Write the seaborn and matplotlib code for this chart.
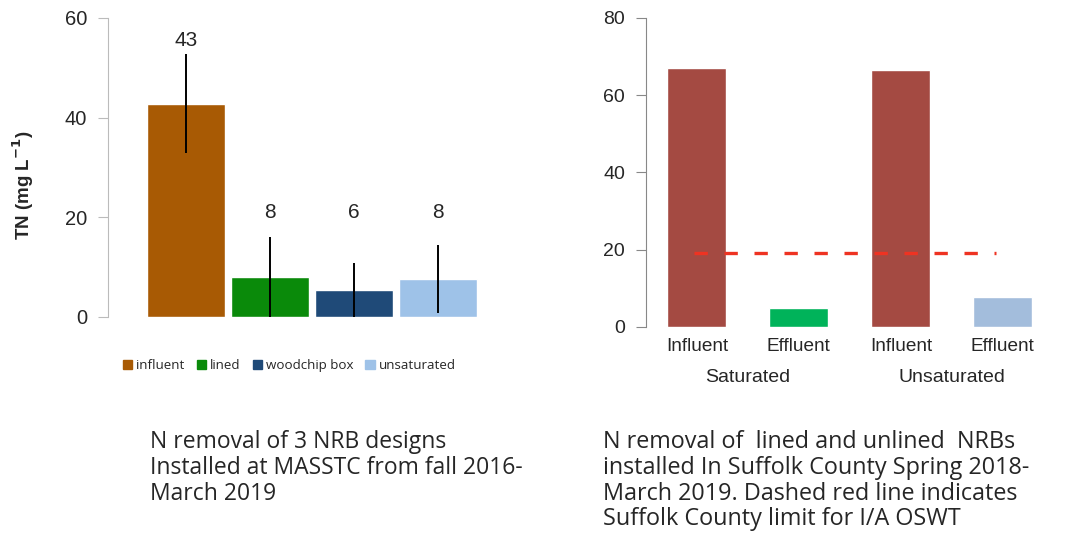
import pandas as pd
import seaborn as sns
import matplotlib.pyplot as plt
from matplotlib.patches import Patch

# dados - painel esquerdo (MASSTC)
designs = ['influent', 'lined', 'woodchip box', 'unsaturated']
tn_means = [42.8, 8.0, 5.4, 7.6]
tn_err = [10.0, 8.0, 5.5, 6.9]
tn_labels = ['43', '8', '6', '8']
colors_left = ['#A85A04', '#0A8A0A', '#1F4A78', '#9EC2E8']

# dados - painel direito (Suffolk County)
groups = ['Saturated', 'Unsaturated']
sample_type = ['Influent', 'Effluent', 'Influent', 'Effluent']
suffolk_tn = [67.1, 4.9, 66.6, 7.8]
colors_right = ['#A44A42', '#00B35A', '#A44A42', '#A3BDDC']
county_limit = 19.2

caption_left = 'N removal of 3 NRB designs\nInstalled at MASSTC from fall 2016-\nMarch 2019'
caption_right = ('N removal of  lined and unlined  NRBs\ninstalled In Suffolk County Spring 2018-\n'
                 'March 2019. Dashed red line indicates\nSuffolk County limit for I/A OSWT')

sns.set_style('white')
plt.rcParams['font.family'] = ['Liberation Sans', 'DejaVu Sans']

fig = plt.figure(figsize=(10.71, 5.35), dpi=100)

# painel esquerdo
ax1 = fig.add_axes([0.1008, 0.4075, 0.353, 0.559])
df1 = pd.DataFrame({'design': designs, 'tn': tn_means})
sns.barplot(data=df1, x='design', y='tn', hue='design', palette=colors_left,
            width=0.92, legend=False, ax=ax1, saturation=1)
ax1.errorbar(range(len(designs)), tn_means, yerr=tn_err, fmt='none', ecolor='black', elinewidth=1.4)
# rotulos: o maior acima da barra de erro, os outros numa altura comum
for i, lab in enumerate(tn_labels):
    ypos = tn_means[i] + tn_err[i] + 2.7 if i == 0 else 21
    ax1.text(i, ypos, lab, ha='center', va='center', fontsize=15)
ax1.set_ylim(0, 60)
ax1.set_xlim(-0.93, 3.57)
ax1.set_yticks([0, 20, 40, 60])
ax1.set_xticks([])
ax1.set_xlabel('')
ax1.set_ylabel('TN (mg L$^{\\mathbf{-1}}$)', fontsize=13.5, fontweight='bold')
ax1.yaxis.set_label_coords(-0.19, 0.44)
ax1.tick_params(axis='y', labelsize=14.5, length=7, color='#bbbbbb', left=True, pad=8)
for s in ['top', 'right', 'bottom']:
    ax1.spines[s].set_visible(False)
ax1.spines['left'].set_color('#bbbbbb')
handles = [Patch(color=c, label=d) for c, d in zip(colors_left, designs)]
ax1.legend(handles=handles, loc='upper center', bbox_to_anchor=(0.48, -0.1), ncol=4, frameon=False,
           handlelength=0.7, handleheight=0.7, handletextpad=0.3, columnspacing=0.9,
           prop={'family': 'Open Sans', 'size': 9.6})

# painel direito
ax2 = fig.add_axes([0.603, 0.389, 0.381, 0.5776])
df2 = pd.DataFrame({'pos': ['0', '1', '2', '3'], 'tn': suffolk_tn})
sns.barplot(data=df2, x='pos', y='tn', hue='pos', palette=colors_right,
            width=0.58, legend=False, ax=ax2, saturation=1)
ax2.hlines(county_limit, -0.03, 2.93, colors='#EE3322', linestyles=(0, (4, 5)), linewidth=2.4)
ax2.set_ylim(0, 80)
ax2.set_xlim(-0.5, 3.5)
ax2.set_yticks([0, 20, 40, 60, 80])
ax2.set_xticks(range(4))
ax2.set_xticklabels(sample_type)
ax2.set_xlabel('')
ax2.set_ylabel('')
ax2.tick_params(axis='y', labelsize=14, length=7, color='#888888', left=True, pad=8)
ax2.tick_params(axis='x', labelsize=13.7, length=0, pad=8)
for s in ['top', 'right', 'bottom']:
    ax2.spines[s].set_visible(False)
ax2.spines['left'].set_color('#888888')
ax2.text(0.5, -13, groups[0], ha='center', va='center', fontsize=14)
ax2.text(2.5, -13, groups[1], ha='center', va='center', fontsize=14)

# legendas de texto
fig.text(150 / 1071, 1 - 430 / 535, caption_left, ha='left', va='top', fontsize=16.5,
         family='Open Sans', linespacing=1.12)
fig.text(603 / 1071, 1 - 430 / 535, caption_right, ha='left', va='top', fontsize=16.8,
         family='Open Sans', linespacing=1.1)

fig.savefig('out.png', dpi=100)
